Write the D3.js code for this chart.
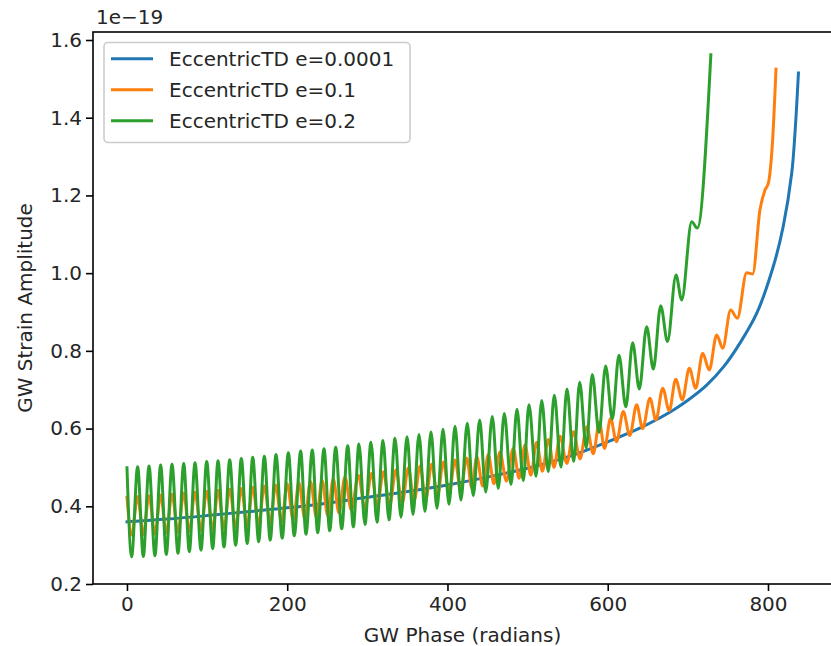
<!DOCTYPE html>
<html>
<head>
<meta charset="utf-8">
<script src="https://cdn.jsdelivr.net/npm/d3@7/dist/d3.min.js"></script>
<style>
  body { margin: 0; background: #fff; }
  svg { display: block; font-family: "DejaVu Sans", sans-serif; }
</style>
</head>
<body>
<svg width="831" height="646"></svg>
<script>
// values (phase in radians, amplitude in units of 1e-19)
var seriesNames = ['EccentricTD e=0.0001', 'EccentricTD e=0.1', 'EccentricTD e=0.2'];
var seriesColors = ['#1f77b4', '#ff7f0e', '#2ca02c'];

var xTicks = [0, 200, 400, 600, 800];
var yTicks = [0.2, 0.4, 0.6, 0.8, 1.0, 1.2, 1.4, 1.6];

var bluePhase = [0, 50, 100, 150, 200, 250, 300, 350, 400, 450, 500, 550, 600, 640, 660, 682,
    700, 723.5, 745, 765, 786, 806.6, 819, 829.6, 834, 838];
var blueAmp = [0.360, 0.367, 0.376, 0.386, 0.396, 0.408, 0.423, 0.438, 0.455, 0.475, 0.498, 0.527,
    0.566, 0.601, 0.622, 0.648, 0.673, 0.712, 0.760, 0.820, 0.897, 1.017, 1.120, 1.257, 1.370, 1.515];

var orangePhase = [0, 5.8, 13.3, 20.4, 27.5, 34.9, 42.0, 49.1, 56.2, 63.7, 70.8, 77.8, 84.9, 92.4,
    99.5, 107.0, 113.6, 121.1, 128.2, 135.7, 142.7, 150.1, 156.9, 164.4, 171.4, 178.8, 185.5, 193.0,
    200.0, 207.5, 214.5, 222.0, 229.0, 236.5, 243.5, 250.5, 257.5, 264.5, 272.0, 280.0, 288.7, 297.0,
    305.4, 312.5, 319.9, 328.0, 335.7, 343.5, 351.1, 358.5, 365.7, 373.0, 380.3, 387.5, 394.8, 402.0,
    409.4, 416.5, 424.0, 430.5, 436.5, 444.0, 450.9, 458.0, 465.5, 473.5, 482.1, 489.5, 496.7, 504.0,
    511.3, 518.5, 525.8, 533.0, 540.4, 549.0, 557.1, 565.5, 573.7, 582.0, 589.5, 596.0, 603.5, 611.0,
    619.4, 627.5, 636.1, 643.6, 652.7, 660.2, 668.6, 676.8, 684.8, 693.1, 701.8, 709.8, 718.5, 726.7,
    736.0, 743.5, 753.4, 761.7, 773.4, 780.9, 790.0, 796.3, 800.4, 805.8, 810.0];
var orangeAmp = [0.423, 0.326, 0.425, 0.327, 0.427, 0.329, 0.429, 0.331, 0.431, 0.333, 0.434, 0.335,
    0.436, 0.338, 0.439, 0.340, 0.441, 0.343, 0.444, 0.346, 0.446, 0.349, 0.449, 0.352, 0.452, 0.356,
    0.455, 0.359, 0.458, 0.363, 0.461, 0.367, 0.464, 0.371, 0.467, 0.376, 0.471, 0.383, 0.476, 0.390,
    0.480, 0.394, 0.485, 0.398, 0.489, 0.403, 0.494, 0.408, 0.499, 0.414, 0.504, 0.419, 0.509, 0.425,
    0.514, 0.432, 0.519, 0.440, 0.524, 0.446, 0.528, 0.452, 0.533, 0.458, 0.540, 0.465, 0.549, 0.472,
    0.558, 0.480, 0.565, 0.490, 0.572, 0.500, 0.580, 0.510, 0.592, 0.522, 0.605, 0.535, 0.617, 0.549,
    0.626, 0.566, 0.644, 0.582, 0.661, 0.600, 0.678, 0.622, 0.704, 0.646, 0.727, 0.674, 0.755, 0.704,
    0.794, 0.751, 0.841, 0.807, 0.905, 0.884, 1.001, 0.998, 1.163, 1.214, 1.231, 1.343, 1.525];

var greenPhase = [0, 5.8, 13.3, 20.4, 27.5, 34.9, 42.0, 49.1, 56.2, 63.7, 70.8, 77.8, 84.9, 92.4,
    99.5, 107.0, 113.6, 121.1, 128.2, 135.7, 142.7, 150.1, 156.9, 164.4, 171.4, 178.8, 186.0, 193.7,
    201.4, 208.8, 216.8, 223.4, 231.3, 238.0, 245.9, 253.0, 260.5, 268.0, 275.5, 282.5, 289.5, 297.0,
    304.5, 312.0, 319.5, 327.0, 334.5, 342.0, 349.5, 357.0, 364.4, 371.9, 379.4, 386.9, 394.4, 401.9,
    409.4, 416.8, 424.7, 432.2, 440.2, 447.7, 455.9, 463.4, 470.9, 479.3, 486.7, 494.6, 501.7, 510.5,
    517.6, 525.8, 533.3, 541.7, 549.1, 557.5, 565.0, 573.2, 580.7, 589.1, 597.4, 605.7, 614.0, 622.6,
    631.1, 639.4, 648.6, 656.9, 666.1, 674.6, 685.2, 692.3, 704.8, 711.8, 728.7];
var greenAmp = [0.499, 0.270, 0.502, 0.271, 0.504, 0.273, 0.506, 0.276, 0.508, 0.279, 0.510, 0.283,
    0.512, 0.287, 0.515, 0.291, 0.517, 0.295, 0.520, 0.300, 0.523, 0.304, 0.526, 0.309, 0.529, 0.313,
    0.533, 0.318, 0.538, 0.324, 0.542, 0.328, 0.545, 0.332, 0.548, 0.337, 0.552, 0.342, 0.556, 0.347,
    0.560, 0.353, 0.565, 0.359, 0.569, 0.365, 0.575, 0.372, 0.579, 0.379, 0.585, 0.387, 0.591, 0.395,
    0.598, 0.405, 0.606, 0.416, 0.614, 0.427, 0.622, 0.437, 0.631, 0.446, 0.639, 0.456, 0.650, 0.466,
    0.661, 0.477, 0.672, 0.489, 0.686, 0.501, 0.702, 0.515, 0.719, 0.550, 0.739, 0.590, 0.761, 0.624,
    0.789, 0.656, 0.821, 0.702, 0.862, 0.753, 0.916, 0.824, 0.995, 0.931, 1.132, 1.116, 1.562];

var chart = chart || {};

chart.painter = function() {
    'use strict';

    var left = 93, right = 832, top = 32, bottom = 584;
    var font = 20;

    function zip(xs, ys) {
        return xs.map(function(x, i) { return {x: x, y: ys[i]}; });
    }

    return {
        apply_to_page: function() {
            var svg = d3.select('svg');
            var x = d3.scaleLinear().domain([-42.4, 879.9]).range([left, right]);
            var y = d3.scaleLinear().domain([0.2, 1.6206]).range([bottom, top]);

            var series = [zip(bluePhase, blueAmp), zip(orangePhase, orangeAmp), zip(greenPhase, greenAmp)];

            // the smooth blue track goes through catmull-rom, the wiggly ones stay monotone
            var curves = [d3.curveCatmullRom.alpha(0.5), d3.curveMonotoneX, d3.curveMonotoneX];

            svg.append('clipPath').attr('id', 'plot-area')
                .append('rect')
                .attr('x', left).attr('y', top)
                .attr('width', right - left).attr('height', bottom - top);

            svg.append('g').attr('clip-path', 'url(#plot-area)')
                .selectAll('path')
                .data(series)
                .enter()
                .append('path')
                .attr('d', function(d, i) {
                    return d3.line()
                        .x(function(p) { return x(p.x); })
                        .y(function(p) { return y(p.y); })
                        .curve(curves[i])(d);
                })
                .attr('fill', 'none')
                .attr('stroke', function(d, i) { return seriesColors[i]; })
                .attr('stroke-width', 3)
                .attr('stroke-linejoin', 'round')
                .attr('stroke-linecap', 'square');

            // axes
            var xAxis = d3.axisBottom(x).tickValues(xTicks).tickSize(7).tickPadding(6)
                .tickFormat(d3.format('d'));
            var yAxis = d3.axisLeft(y).tickValues(yTicks).tickSize(7).tickPadding(4)
                .tickFormat(d3.format('.1f'));

            var gx = svg.append('g').attr('transform', 'translate(0,' + bottom + ')').call(xAxis);
            var gy = svg.append('g').attr('transform', 'translate(' + left + ',0)').call(yAxis);

            [gx, gy].forEach(function(g) {
                g.select('.domain').remove();
                g.selectAll('.tick line').attr('stroke', '#000').attr('stroke-width', 1.6);
                g.selectAll('.tick text')
                    .attr('fill', '#262626')
                    .style('font-size', font + 'px')
                    .style('font-family', '"DejaVu Sans", sans-serif');
            });

            // spines
            svg.append('rect')
                .attr('x', left).attr('y', top)
                .attr('width', right - left).attr('height', bottom - top)
                .attr('fill', 'none').attr('stroke', '#000').attr('stroke-width', 1.6);

            svg.append('text')
                .attr('x', 96).attr('y', 24)
                .attr('font-size', font)
                .attr('fill', '#262626')
                .text('1e\u221219');

            svg.append('text')
                .attr('x', (left + right) / 2).attr('y', 642)
                .attr('text-anchor', 'middle')
                .attr('font-size', font)
                .attr('fill', '#262626')
                .text('GW Phase (radians)');

            svg.append('text')
                .attr('transform', 'translate(32,' + ((top + bottom) / 2) + ') rotate(-90)')
                .attr('text-anchor', 'middle')
                .attr('font-size', font)
                .attr('fill', '#262626')
                .text('GW Strain Amplitude');

            // legend
            var legend = svg.append('g');
            legend.append('rect')
                .attr('x', 104).attr('y', 42.5)
                .attr('width', 306).attr('height', 100)
                .attr('rx', 4).attr('ry', 4)
                .attr('fill', '#fff').attr('fill-opacity', 0.8)
                .attr('stroke', '#cccccc').attr('stroke-width', 1.6);

            var rows = legend.selectAll('g.row')
                .data(seriesNames)
                .enter()
                .append('g')
                .attr('class', 'row')
                .attr('transform', function(d, i) { return 'translate(0,' + (58.7 + i * 31) + ')'; });

            rows.append('line')
                .attr('x1', 111).attr('x2', 153)
                .attr('stroke', function(d, i) { return seriesColors[i]; })
                .attr('stroke-width', 3);

            rows.append('text')
                .attr('x', 169).attr('y', 7)
                .attr('font-size', font)
                .attr('fill', '#262626')
                .text(function(d) { return d; });
        }
    };
};

chart.painter().apply_to_page();
</script>
</body>
</html>
